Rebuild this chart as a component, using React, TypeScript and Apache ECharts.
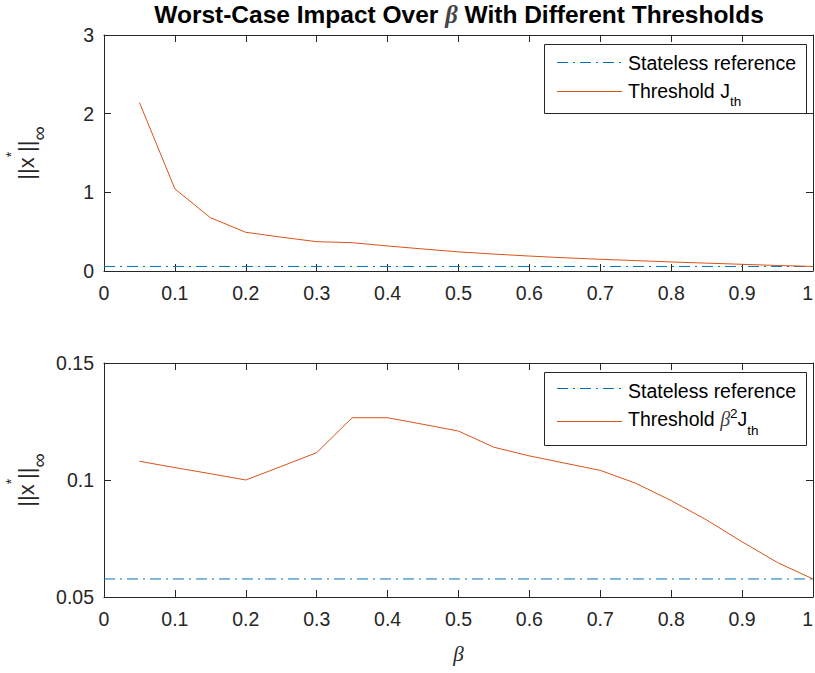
import React, { useEffect, useRef } from "react";
import * as echarts from "echarts";

// ---- data ----
const betas = [0.05, 0.1, 0.15, 0.2, 0.25, 0.3, 0.35, 0.4, 0.45, 0.5, 0.55, 0.6, 0.65, 0.7, 0.75, 0.8, 0.85, 0.9, 0.95, 1.0];
const thresholdJth = [2.142, 1.043, 0.678, 0.492, 0.43, 0.373, 0.36, 0.318, 0.28, 0.243, 0.215, 0.19, 0.168, 0.149, 0.132, 0.115, 0.1, 0.085, 0.07, 0.0577];
const thresholdBeta2Jth = [0.108, 0.1053, 0.1027, 0.1, 0.1058, 0.1117, 0.1266, 0.1266, 0.1238, 0.1209, 0.114, 0.1103, 0.1072, 0.1041, 0.0986, 0.0912, 0.0829, 0.0736, 0.0647, 0.0577];
const statelessBeta = [0, 1];
const statelessValue = [0.0577, 0.0577];

const seriesNames = ["Stateless reference", "Threshold J_th", "Threshold beta2 J_th"];
const titleParts = ["Worst-Case Impact Over ", "β", " With Different Thresholds"];

const FONT = "'Liberation Sans', Arial, Helvetica, sans-serif";
const SERIF = "'Liberation Serif', 'DejaVu Serif', serif";
const AX = "#262626";
const BLUE = "#0072BD";
const ORANGE = "#D95319";
const DASH = [11, 5, 2, 5];

const pairs = (xs: number[], ys: number[]) => xs.map((x, i) => [x, ys[i]]);

function xAxisDef(grid: number, pos: "bottom" | "top", showLabels: boolean, extra: any = {}) {
  return {
    gridIndex: grid,
    type: "value",
    position: pos,
    min: 0,
    max: 1,
    interval: 0.1,
    axisLine: { show: true, onZero: false, lineStyle: { color: AX, width: 1 } },
    axisTick: { show: true, inside: true, length: 7, lineStyle: { color: AX, width: 1 } },
    axisLabel: { show: showLabels, fontSize: 19.5, color: AX, fontFamily: FONT, margin: 12, alignMaxLabel: "right" },
    splitLine: { show: false },
    ...extra,
  };
}

function yAxisDef(grid: number, pos: "left" | "right", showLabels: boolean, min: number, max: number, interval: number) {
  return {
    gridIndex: grid,
    type: "value",
    position: pos,
    min,
    max,
    interval,
    axisLine: { show: true, onZero: false, lineStyle: { color: AX, width: 1 } },
    axisTick: { show: true, inside: true, length: 7, lineStyle: { color: AX, width: 1 } },
    axisLabel: { show: showLabels, fontSize: 19.5, color: AX, fontFamily: FONT, margin: 10 },
    splitLine: { show: false },
  };
}

// main tokens centred in a 26px line; sub/sup placed from the line top with padding
const legendRich = {
  n: { fontSize: 19.5, fontFamily: FONT, fill: "#000", lineHeight: 26, verticalAlign: "middle" },
  g: { fontSize: 20, fontFamily: SERIF, fontStyle: "italic", fill: "#444", lineHeight: 26, verticalAlign: "middle" },
  sub: { fontSize: 13.5, fontFamily: FONT, fill: "#000", lineHeight: 6, verticalAlign: "top", padding: [17, 0, 0, 0] },
  sup: { fontSize: 13.5, fontFamily: FONT, fill: "#000", lineHeight: 6, verticalAlign: "top", padding: [0, 0, 0, 0] },
};

function legendLabel(name: string) {
  if (name === seriesNames[1]) return "{n|Threshold J}{sub|th}";
  if (name === seriesNames[2]) return "{n|Threshold }{g|β}{sup|2}{n|J}{sub|th}";
  return "{n|" + name + "}";
}

function legendBox(top: number, height: number, rows: { name: string; color: string; dash: boolean; lineY: number; textY: number }[]) {
  const els: any[] = [
    {
      type: "rect",
      z: 100,
      shape: { x: 544.5, y: top + 0.5, width: 262, height },
      style: { fill: "#fff", stroke: AX, lineWidth: 1 },
    },
  ];
  rows.forEach((r) => {
    els.push({
      type: "line",
      z: 101,
      shape: { x1: 557, y1: r.lineY, x2: 622, y2: r.lineY },
      style: { stroke: r.color, lineWidth: 1, lineDash: r.dash ? DASH : null },
    });
    els.push({
      type: "text",
      z: 101,
      x: 628,
      y: r.textY,
      style: { text: legendLabel(r.name), rich: legendRich, align: "left", verticalAlign: "middle", fill: "#000" },
    });
  });
  return els;
}

const yLabelRich = {
  a: { fontSize: 22, fontFamily: FONT, fill: AX, lineHeight: 46, verticalAlign: "middle" },
  sup: { fontSize: 14, fontFamily: FONT, fill: AX, lineHeight: 8, verticalAlign: "top" },
  sub: { fontSize: 20, fontFamily: FONT, fill: AX, lineHeight: 8, verticalAlign: "top", padding: [25, 0, 0, 0] },
};

function yLabel(cy: number) {
  return {
    type: "text",
    x: 26.5,
    y: cy,
    rotation: Math.PI / 2,
    style: {
      text: "{a|||x}{sup|*}{a|||}{sub|∞}",
      rich: yLabelRich,
      align: "center",
      verticalAlign: "middle",
      fill: AX,
    },
  };
}

export default function App() {
  const ref = useRef<HTMLDivElement>(null);

  useEffect(() => {
    if (!ref.current) return;
    const chart = echarts.init(ref.current, null, { renderer: "svg" });
    const option: any = {
      animation: false,
      backgroundColor: "#fff",
      title: {
        text: "{b|" + titleParts[0] + "}{g|" + titleParts[1] + "}{b|" + titleParts[2] + "}",
        left: 459,
        textAlign: "center",
        top: 1.5,
        padding: 0,
        textStyle: {
          rich: {
            b: { fontSize: 24.5, fontWeight: "bold", fontFamily: FONT, color: "#000" },
            g: { fontSize: 24.5, fontStyle: "italic", fontFamily: SERIF, color: "#444" },
          },
        },
      },
      grid: [
        { left: 104, top: 35, width: 709, height: 236, outerBoundsMode: "none", containLabel: false },
        { left: 104, top: 363, width: 709, height: 234, outerBoundsMode: "none", containLabel: false },
      ],
      xAxis: [
        xAxisDef(0, "bottom", true),
        xAxisDef(0, "top", false),
        xAxisDef(1, "bottom", true, {
          name: "β",
          nameLocation: "middle",
          nameGap: 46,
          nameTextStyle: { fontSize: 21, fontStyle: "italic", fontFamily: SERIF, color: AX },
        }),
        xAxisDef(1, "top", false),
      ],
      yAxis: [
        yAxisDef(0, "left", true, 0, 3, 1),
        yAxisDef(0, "right", false, 0, 3, 1),
        yAxisDef(1, "left", true, 0.05, 0.15, 0.05),
        yAxisDef(1, "right", false, 0.05, 0.15, 0.05),
      ],
      series: [
        {
          type: "line",
          name: seriesNames[0],
          xAxisIndex: 0,
          yAxisIndex: 0,
          data: pairs(statelessBeta, statelessValue),
          symbol: "none",
          lineStyle: { color: BLUE, width: 1, type: DASH },
          itemStyle: { color: BLUE },
        },
        {
          type: "line",
          name: seriesNames[1],
          xAxisIndex: 0,
          yAxisIndex: 0,
          data: pairs(betas, thresholdJth),
          symbol: "none",
          lineStyle: { color: ORANGE, width: 1 },
          itemStyle: { color: ORANGE },
        },
        {
          type: "line",
          name: seriesNames[0],
          xAxisIndex: 2,
          yAxisIndex: 2,
          data: pairs(statelessBeta, statelessValue),
          symbol: "none",
          lineStyle: { color: BLUE, width: 1, type: DASH },
          itemStyle: { color: BLUE },
        },
        {
          type: "line",
          name: seriesNames[2],
          xAxisIndex: 2,
          yAxisIndex: 2,
          data: pairs(betas, thresholdBeta2Jth),
          symbol: "none",
          lineStyle: { color: ORANGE, width: 1 },
          itemStyle: { color: ORANGE },
        },
      ],
      graphic: [
        yLabel(153),
        yLabel(480),
        ...legendBox(44, 69, [
          { name: seriesNames[0], color: BLUE, dash: true, lineY: 62.5, textY: 62.7 },
          { name: seriesNames[1], color: ORANGE, dash: false, lineY: 91.5, textY: 90.7 },
        ]),
        ...legendBox(372, 73, [
          { name: seriesNames[0], color: BLUE, dash: true, lineY: 388.5, textY: 390.7 },
          { name: seriesNames[2], color: ORANGE, dash: false, lineY: 421.5, textY: 419.3 },
        ]),
      ],
    };
    chart.setOption(option);
    return () => chart.dispose();
  }, []);

  return (
    <div
      ref={ref}
      style={{ position: "absolute", left: 0, top: 0, width: 815, height: 673, background: "#fff" }}
    />
  );
}
